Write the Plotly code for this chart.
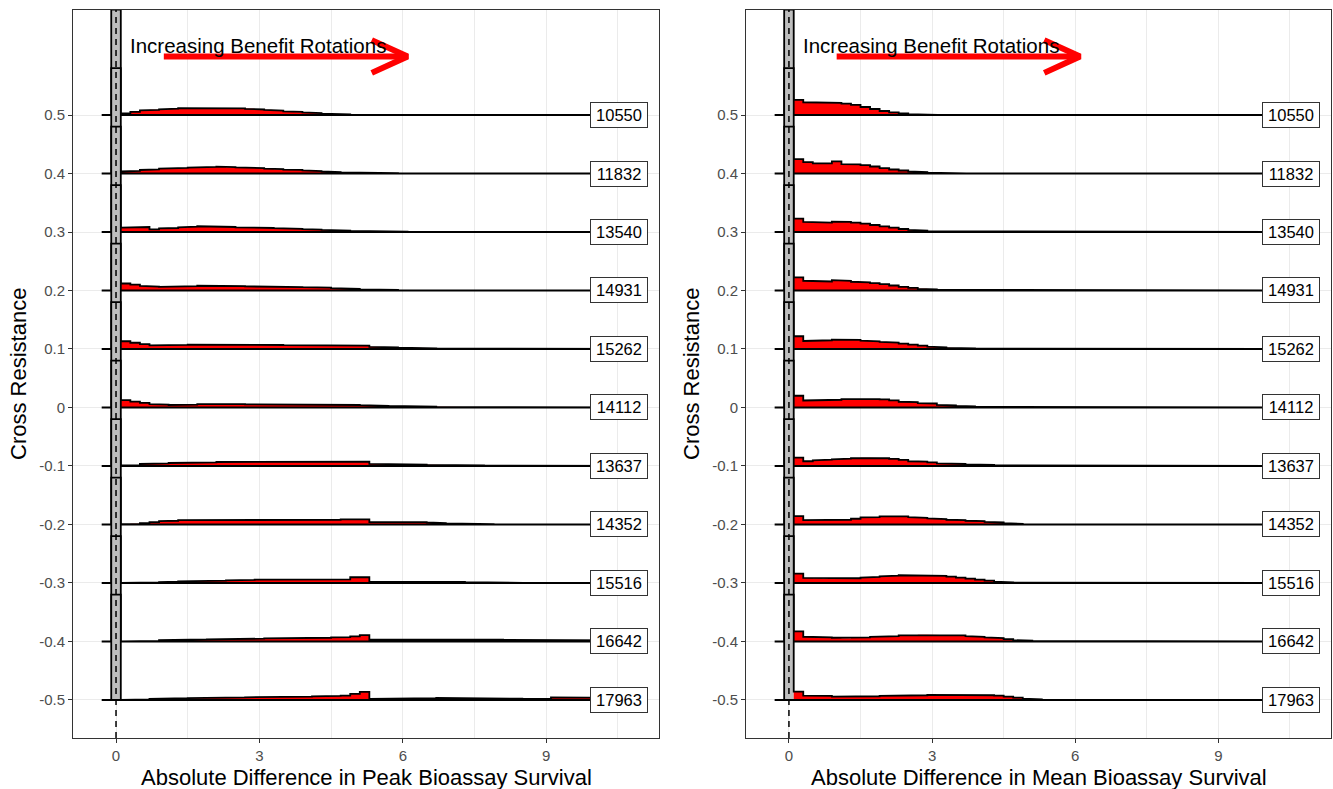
import plotly.graph_objects as go

# ---- data -----------------------------------------------------------------
CROSS_RESISTANCE = [0.5, 0.4, 0.3, 0.2, 0.1, 0.0, -0.1, -0.2, -0.3, -0.4, -0.5]
Y_TICK_TEXT = ["0.5", "0.4", "0.3", "0.2", "0.1", "0", "-0.1", "-0.2", "-0.3", "-0.4", "-0.5"]
N_BENEFIT = [10550, 11832, 13540, 14931, 15262, 14112, 13637, 14352, 15516, 16642, 17963]
X_TICKS = [0, 3, 6, 9]
X_MINOR = [1.5, 4.5, 7.5, 10.5]

# histogram bins: one empty bin, the "no difference" bin, then benefit bins
HIST_START = -0.3
ZERO_BIN = (-0.1, 0.1)
BIN_WIDTH = 0.2
HIST_END = 10.9
ZERO_BIN_DENSITY = 105.0   # relative density of the no-difference bin (every row)

# relative densities of the benefit bins (starting at 0.1, width 0.2)
PEAK_DENSITY = {
    0.5: [1.7, 3.2, 4.7, 5.2, 5.7, 6.3, 6.8, 7, 7.1, 7.3, 7.3, 7, 6.7, 6.2, 5.5, 5, 4.3, 3.7,
          3.1, 2.5, 1.9, 1.3, 1, 0.6, 0.4, 0.3, 0.2],
    0.4: [2, 2.6, 3.5, 4.1, 4.8, 5.2, 5.5, 5.9, 6.1, 6.5, 6.9, 6.3, 6, 5.7, 5.4, 4.9, 4.3, 3.9,
          3.6, 3, 2.4, 2, 1.3, 1, 0.7, 0.7, 0.5, 0.4, 0.3, 0.2, 0.2, 0.2, 0.2],
    0.3: [4.3, 4.7, 5, 2.7, 3.7, 4, 4.7, 5.3, 5.7, 5.7, 5.3, 5, 4.7, 4.7, 4.3, 4, 3.8, 3.4,
          3.1, 2.8, 2.4, 2, 1.6, 1.3, 1, 0.7, 0.7, 0.5, 0.3, 0.3, 0.2],
    0.2: [7, 5.8, 4.6, 3.9, 3.7, 3.8, 4.1, 4.4, 4.7, 5, 5, 4.7, 4.4, 4.1, 4, 3.9, 3.7, 3.6,
          3.4, 3.3, 3.1, 2.8, 2.3, 2, 1.6, 1.2, 0.8, 0.7, 0.5, 0.3, 0.2, 0.2],
    0.1: [7.7, 6.2, 4.8, 3.6, 3.5, 3.9, 4.1, 4.4, 4.7, 4.7, 4.7, 4.5, 4.3, 4.3, 4.2, 4, 4, 3.9,
          3.7, 3.7, 3.7, 3.5, 3.3, 3.4, 3.5, 3.3, 2.2, 2, 1.7, 1.4, 1.1, 0.9, 0.7, 0.6, 0.4,
          0.3, 0.2, 0.2, 0.2],
    0.0: [7.3, 5.9, 4.7, 3.4, 2.8, 2.5, 2.5, 2.9, 3.3, 3.8, 3.9, 3.6, 3.3, 3.1, 3, 3, 3, 3,
          3, 3.1, 3.2, 3, 2.9, 2.7, 2.5, 2.4, 1.8, 1.7, 1.5, 1.3, 1.1, 1, 0.8, 0.7, 0.6, 0.4,
          0.3, 0.2, 0.2],
    -0.1: [0.7, 0.8, 2, 2.2, 2.5, 3, 3.3, 3.4, 3.5, 3.7, 4, 4, 4.1, 4.2, 4.3, 4.3, 4.3, 4.2,
           4.1, 4, 4, 4, 4, 4.1, 4.2, 4.3, 2, 2, 1.9, 1.8, 1.6, 1.3, 1.2, 1, 0.8, 0.7, 0.6,
           0.5, 0.4, 0.3, 0.2],
    -0.2: [0.3, 0.7, 1.3, 2.3, 3.3, 3.7, 4.3, 4.3, 4, 4.3, 4.7, 4.7, 4.7, 4.3, 4.3, 4.3, 4.3,
           4.7, 4.7, 4.7, 4.7, 4.7, 4.7, 5, 5, 5, 2.3, 2.7, 3, 3, 2.7, 2.3, 2, 1.3, 1, 0.7,
           0.5, 0.3, 0.3, 0.2, 0.2],
    -0.3: [0, 0.2, 0.3, 0.5, 0.8, 1.3, 1.7, 1.7, 2, 2.2, 2.3, 2.5, 2.7, 3, 3.3, 3.3, 3.3, 3.3,
           3.3, 3.3, 3.5, 3.5, 3.3, 3.5, 5.7, 5.7, 1.3, 1.3, 1.7, 1.7, 1.7, 1.7, 1.7, 1.5, 1.3,
           1, 0.8, 0.6, 0.4, 0.3, 0.2, 0.2],
    -0.4: [0.2, 0.2, 0.3, 0.6, 1.3, 1.7, 2, 2, 2, 2.2, 2.3, 2.5, 2.7, 2.7, 2.8, 3, 3, 3.2,
           3.3, 3.3, 3.5, 3.7, 4, 4.3, 5, 6.3, 1.7, 1.7, 1.7, 1.8, 1.8, 1.8, 1.9, 2, 2.2, 2.3,
           2, 1.8, 1.7, 1.7, 1.5, 1.3, 1.3, 1.3, 1.5, 1.7, 1.7, 1.7, 1.7, 1.5, 1.3, 1.2, 1,
           0.8],
    -0.5: [0.2, 0.3, 0.5, 1, 1.3, 1.5, 1.7, 1.8, 2, 2, 2.3, 2.3, 2.5, 2.7, 2.7, 2.8, 3, 3,
           3.2, 3.3, 3.5, 3.7, 4, 4.3, 6, 8, 1, 1, 1.2, 1.3, 1.5, 1.7, 1.7, 2, 2, 2, 2, 2, 2,
           1.8, 1.7, 1.3, 1, 1, 1.2, 2.5, 2.5, 2.7, 2.7, 2.7, 2.5, 2.3, 2, 1.5],
}

MEAN_DENSITY = {
    0.5: [15, 12.7, 12.7, 12.5, 12, 11.3, 10, 8, 6, 4, 2.7, 1.7, 0.8, 0.4, 0.2],
    0.4: [14.3, 11.3, 10, 10, 12, 9.3, 9, 8.3, 7, 5.3, 4, 3, 2, 1.3, 0.8, 0.5, 0.3, 0.2],
    0.3: [13.3, 10, 9.7, 9.3, 10.3, 10, 9.3, 8.3, 7, 5.7, 4.3, 3, 2, 1.3, 0.7, 0.4, 0.2],
    0.2: [13, 9.7, 9.3, 9, 10.3, 9.7, 8.7, 8, 7.3, 6.3, 5, 3.7, 2.7, 1.7, 1, 0.7, 0.4, 0.2],
    0.1: [12.7, 8, 8.3, 8.7, 9.3, 9.3, 9, 8.3, 7.7, 7, 6.3, 5.3, 4.3, 3.3, 2.3, 1.7, 1.2,
          0.8, 0.5, 0.3, 0.2, 0.2],
    0.0: [11.7, 7, 7, 7, 7.7, 8.3, 9, 9, 8.3, 8, 7, 5.7, 5.3, 4.3, 4, 2.7, 2, 1.7, 1, 0.7,
          0.7, 0.5, 0.3, 0.2],
    -0.1: [8.3, 4.7, 5.7, 6.3, 6.7, 7.3, 7.7, 8.3, 8.3, 7.7, 7, 6, 4.7, 4.3, 3.7, 2.7, 2.3,
           2, 1.7, 1.3, 1, 0.7, 0.5, 0.3, 0.2, 0.2],
    -0.2: [8.3, 4.3, 4.3, 4.3, 4.3, 4.7, 5.7, 7, 7.3, 8, 8.3, 8, 7.3, 6.7, 6, 5.3, 4.7, 4.3,
           3.7, 3.3, 2.7, 2, 1.3, 0.7, 0.3, 0.2],
    -0.3: [9.3, 5, 4.7, 4.3, 4.3, 4.3, 4.7, 5.3, 6, 6.7, 7.3, 7.7, 7.7, 7.7, 7.3, 7, 6.3,
           5.3, 4.3, 3.3, 2.3, 1.3, 0.6, 0.3],
    -0.4: [10, 4.7, 4.3, 4, 3.7, 3.3, 3.7, 4, 4.7, 5, 5.3, 6, 6.3, 6.7, 6.7, 6.7, 6.3, 6,
           5.3, 4.7, 4, 3.3, 2.3, 1.3, 0.8, 0.5, 0.3, 0.3, 0.2, 0.2],
    -0.5: [8.3, 4.3, 4.7, 4, 3.3, 3, 3, 3.3, 3.7, 4, 4, 4.3, 4.3, 4.7, 5, 5.3, 5.3, 5, 4.7,
           4.7, 4.7, 4.3, 3.3, 2.3, 1.3, 0.7, 0.3],
}

PANELS = [
    ("Absolute Difference in Peak Bioassay Survival", PEAK_DENSITY, "x", "y"),
    ("Absolute Difference in Mean Bioassay Survival", MEAN_DENSITY, "x2", "y2"),
]

# ---- styling ----------------------------------------------------------------
W, H = 1333, 789
FONT = "Liberation Sans, Arial, sans-serif"
RIDGE_HEIGHT = 0.18          # height (y units) of the no-difference bin
X_RANGE = [-0.9, 11.36]
Y_RANGE = [-0.565, 0.6795]
LABEL_X = 10.53
ARROW_Y = 0.6
ARROW_X = (1.0, 6.1)
ARROW_HEAD = (0.75, 0.028)
ARROW_TEXT_POS = (0.25, 0.618)

panel_px = [(73, 659), (746, 1331)]
y_dom = [(H - 738) / H, (H - 10) / H]

fig = go.Figure()
scale = RIDGE_HEIGHT / ZERO_BIN_DENSITY


def add_ridges(density, xa, ya):
    for level in CROSS_RESISTANCE:
        heights = density[level]
        ztop = level + ZERO_BIN_DENSITY * scale
        # no-difference bin
        fig.add_trace(go.Scatter(
            x=[ZERO_BIN[0], ZERO_BIN[0], ZERO_BIN[1], ZERO_BIN[1], ZERO_BIN[0]],
            y=[level, ztop, ztop, level, level],
            mode="lines", fill="toself", fillcolor="#BEBEBE",
            line=dict(width=0), xaxis=xa, yaxis=ya, hoverinfo="skip"))
        # benefit bins
        xs, ys = [ZERO_BIN[1]], [level]
        for i, h in enumerate(heights):
            x0 = ZERO_BIN[1] + i * BIN_WIDTH
            xs += [x0, x0 + BIN_WIDTH]
            ys += [level + h * scale] * 2
        x_last = ZERO_BIN[1] + len(heights) * BIN_WIDTH
        xs += [x_last, ZERO_BIN[1]]
        ys += [level, level]
        fig.add_trace(go.Scatter(
            x=xs, y=ys, mode="lines", fill="toself", fillcolor="#FF0000",
            line=dict(width=0), xaxis=xa, yaxis=ya, hoverinfo="skip"))
        # outline of the whole ridge, then the baseline back to the start
        ox = [HIST_START, ZERO_BIN[0], ZERO_BIN[0], ZERO_BIN[1]] + xs[1:-1] + [HIST_END, HIST_START]
        oy = [level, level, ztop, ztop] + ys[1:-1] + [level, level]
        fig.add_trace(go.Scatter(
            x=ox, y=oy, mode="lines", line=dict(color="black", width=1.8),
            xaxis=xa, yaxis=ya, hoverinfo="skip"))


for idx, (title, density, xa, ya) in enumerate(PANELS):
    add_ridges(density, xa, ya)
    # arrow
    fig.add_trace(go.Scatter(
        x=[ARROW_X[0], ARROW_X[1]], y=[ARROW_Y, ARROW_Y], mode="lines",
        line=dict(color="#FF0000", width=6), xaxis=xa, yaxis=ya, hoverinfo="skip"))
    fig.add_trace(go.Scatter(
        x=[ARROW_X[1] - ARROW_HEAD[0], ARROW_X[1], ARROW_X[1] - ARROW_HEAD[0]],
        y=[ARROW_Y + ARROW_HEAD[1], ARROW_Y, ARROW_Y - ARROW_HEAD[1]], mode="lines",
        line=dict(color="#FF0000", width=6), xaxis=xa, yaxis=ya, hoverinfo="skip"))

    sfx = "" if idx == 0 else str(idx + 1)
    x0px, x1px = panel_px[idx]
    axis_common = dict(
        showline=True, mirror=True, linecolor="#333333", linewidth=1,
        ticks="outside", ticklen=4, tickcolor="#333333", tickwidth=1,
        tickfont=dict(family=FONT, size=15, color="#4D4D4D"),
        showgrid=True, gridcolor="#EBEBEB", gridwidth=1.1, zeroline=False,
    )
    fig.update_layout(**{
        "xaxis" + sfx: dict(
            domain=[x0px / W, x1px / W], range=X_RANGE, tickvals=X_TICKS,
            anchor="y" + sfx,
            minor=dict(tickvals=X_MINOR, showgrid=True, gridcolor="#EBEBEB",
                       gridwidth=0.6, ticks=""),
            **axis_common),
        "yaxis" + sfx: dict(
            domain=y_dom, range=Y_RANGE, tickvals=CROSS_RESISTANCE,
            ticktext=Y_TICK_TEXT, anchor="x" + sfx, **axis_common),
    })

    # dashed reference line at zero
    fig.add_shape(type="line", xref=xa, yref=f"{ya} domain", x0=0, x1=0, y0=0, y1=1,
                  line=dict(color="black", width=1.5, dash="6px,5px"), layer="above")

    # count labels
    for level, n in zip(CROSS_RESISTANCE, N_BENEFIT):
        fig.add_annotation(
            x=LABEL_X, y=level, xref=xa, yref=ya, text=str(n), showarrow=False,
            font=dict(family=FONT, size=16.5, color="black"),
            bgcolor="white", bordercolor="#333333", borderwidth=1, borderpad=3,
            width=50, height=18, xanchor="center", yanchor="middle")

    fig.add_annotation(
        x=ARROW_TEXT_POS[0], y=ARROW_TEXT_POS[1], xref=xa, yref=ya,
        text="Increasing Benefit Rotations", showarrow=False,
        font=dict(family=FONT, size=20.5, color="black"),
        xanchor="left", yanchor="middle")

    # axis titles
    fig.add_annotation(
        x=0.5, y=(H - 777) / H, xref=f"{xa} domain", yref="paper", text=title,
        showarrow=False, font=dict(family=FONT, size=22, color="black"),
        xanchor="center", yanchor="middle")
    fig.add_annotation(
        x=(x0px - 55) / W, y=0.5, xref="paper", yref=f"{ya} domain",
        text="Cross Resistance", textangle=-90, showarrow=False,
        font=dict(family=FONT, size=22, color="black"),
        xanchor="center", yanchor="middle")

fig.update_layout(
    width=W, height=H, margin=dict(l=0, r=0, t=0, b=0),
    paper_bgcolor="white", plot_bgcolor="white", showlegend=False,
    font=dict(family=FONT),
)

fig.write_html("out.html", include_plotlyjs=True, config={"displayModeBar": False})
